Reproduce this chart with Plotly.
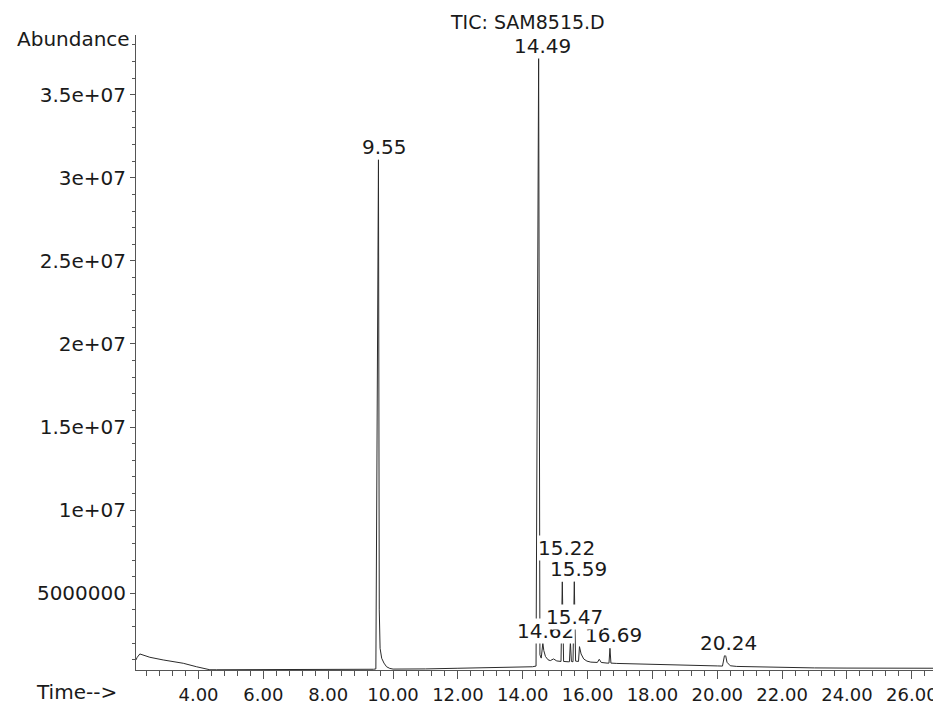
import plotly.graph_objects as go

# ---- data ----
time_min = [2.07, 2.11, 2.19, 2.30, 2.50, 2.91, 3.20, 3.53, 3.94, 4.15, 4.35, 4.55, 5.0, 6.0, 7.0, 8.0,
            9.0, 9.40, 9.47, 9.55, 9.575, 9.60, 9.65, 9.72, 9.80, 9.90, 10.0, 10.5, 11.0, 12.0, 13.0,
            13.6, 14.0, 14.30, 14.41, 14.49, 14.53, 14.57, 14.62, 14.65, 14.70, 14.78, 14.85, 14.95,
            15.05, 15.18, 15.22, 15.26, 15.40, 15.44, 15.47, 15.50, 15.55, 15.59, 15.63, 15.72, 15.75,
            15.80, 15.88, 15.98, 16.10, 16.30, 16.36, 16.42, 16.60, 16.66, 16.69, 16.72, 16.90, 17.5,
            18.0, 19.0, 20.0, 20.16, 20.24, 20.30, 20.40, 20.60, 21.0, 22.0, 23.0, 24.0, 25.0, 26.0, 26.9]
abundance_m = [0.99, 1.15, 1.35, 1.28, 1.15, 0.99, 0.90, 0.79, 0.58, 0.48, 0.40, 0.40, 0.40, 0.40, 0.40,
               0.41, 0.42, 0.43, 0.45, 31.1, 4.0, 1.69, 1.09, 0.80, 0.58, 0.48, 0.44, 0.43, 0.45, 0.49,
               0.51, 0.53, 0.55, 0.58, 0.62, 37.2, 1.3, 1.1, 2.0, 1.55, 1.2, 1.0, 0.95, 1.05, 0.93, 0.9,
               5.7, 0.9, 0.88, 0.88, 2.09, 0.9, 0.88, 5.72, 0.92, 0.9, 1.79, 1.35, 1.05, 0.92, 0.86, 0.84,
               1.03, 0.84, 0.8, 0.8, 1.69, 0.8, 0.78, 0.76, 0.74, 0.68, 0.63, 0.62, 1.43, 0.85, 0.64, 0.6,
               0.58, 0.53, 0.51, 0.50, 0.49, 0.49, 0.49]
abundance = [v * 1e6 for v in abundance_m]

peak_labels = ["9.55", "14.49", "14.62", "15.22", "15.59", "16.69", "20.24", "15.47"]
peak_times = [9.55, 14.49, 14.62, 15.22, 15.59, 16.69, 20.24, 15.47]

y_tick_vals = [5e6, 1e7, 1.5e7, 2e7, 2.5e7, 3e7, 3.5e7]
y_tick_text = ["5000000", "1e+07", "1.5e+07", "2e+07", "2.5e+07", "3e+07", "3.5e+07"]

title_text = "TIC: SAM8515.D"

# label offsets in pixels (xshift, yshift) relative to the peak apex
label_offsets = {
    "9.55": (6, 12), "14.49": (4, 12), "14.62": (3, 12), "15.22": (4, 34),
    "15.59": (4, 12), "16.69": (4, 13), "20.24": (3, 10), "15.47": (4, 25),
}

FONT = "DejaVu Sans"
TXT = "#1a1a1a"
AX = "#555555"

# the page body adds an 8px margin, so the figure is 8px smaller and margins are reduced by 8
W, H = 933, 696
ML, MT, MB, MR = 128, 27, 34, 0
plot_w = W - ML - MR

fig = go.Figure()
fig.add_trace(go.Scatter(x=time_min, y=abundance, mode="lines",
                         line=dict(color="#2b2b2b", width=1), hoverinfo="skip",
                         showlegend=False))

for lab, t in zip(peak_labels, peak_times):
    h = abundance[time_min.index(t)]
    dx, dy = label_offsets[lab]
    fig.add_annotation(x=t, y=h, text=lab, showarrow=False, xanchor="center", yanchor="middle",
                       xshift=dx, yshift=dy, bgcolor="white", borderpad=0,
                       font=dict(family=FONT, size=20, color=TXT))

fig.add_annotation(xref="paper", yref="paper", x=(527.5 - 136) / plot_w, y=1,
                   yshift=13, text=title_text, showarrow=False, xanchor="center", yanchor="middle",
                   font=dict(family=FONT, size=19, color=TXT))
fig.add_annotation(xref="paper", yref="paper", x=0, y=1, xshift=-4, yshift=-4,
                   text="Abundance", showarrow=False, xanchor="right", yanchor="middle",
                   font=dict(family=FONT, size=20, color=TXT))
fig.add_annotation(xref="paper", yref="paper", x=0, y=0, xshift=-60, yshift=-22,
                   text="Time-->", showarrow=False, xanchor="center", yanchor="middle",
                   font=dict(family=FONT, size=20, color=TXT))

fig.update_layout(
    width=W, height=H,
    margin=dict(l=ML, r=MR, t=MT, b=MB, autoexpand=False),
    plot_bgcolor="white", paper_bgcolor="white",
    xaxis=dict(range=[2.072, 26.90], dtick=2, tick0=0, tickformat=".2f",
               showgrid=False, zeroline=False, showline=True, linecolor=AX, linewidth=1,
               ticks="outside", ticklen=8, tickcolor=AX, tickwidth=1,
               tickfont=dict(family=FONT, size=18, color=TXT),
               minor=dict(dtick=0.4, tick0=0, ticks="outside", ticklen=5, tickcolor=AX,
                          showgrid=False)),
    yaxis=dict(range=[0.385e6, 38.59e6], tickvals=y_tick_vals, ticktext=y_tick_text,
               showgrid=False, zeroline=False, showline=True, linecolor=AX, linewidth=1,
               ticks="outside", ticklen=5, tickcolor=AX, tickwidth=1,
               tickfont=dict(family=FONT, size=20, color=TXT),
               minor=dict(dtick=1e6, tick0=0, ticks="outside", ticklen=3, tickcolor=AX,
                          showgrid=False)),
)

fig.write_html("out.html")
